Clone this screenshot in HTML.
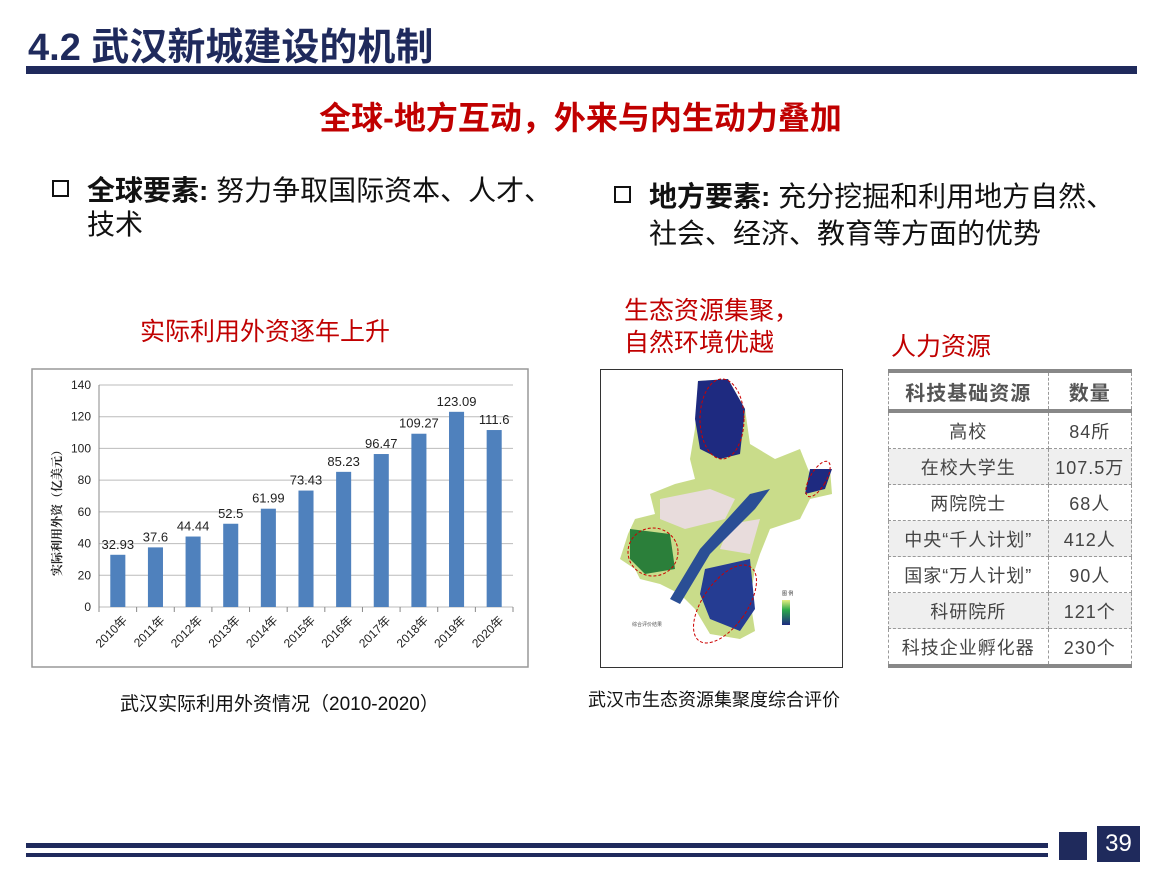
<!DOCTYPE html>
<html><head><meta charset="utf-8"><style>
body{margin:0;width:1161px;height:872px;background:#fff;position:relative;overflow:hidden;font-family:"Liberation Sans","Noto Sans CJK SC",sans-serif}
.a{position:absolute}
td{border:1px dashed #999;text-align:center;font-size:18px;color:#444;letter-spacing:1px;padding:0;height:35px}
</style></head><body>
<div class="a" style="left:28px;top:16px;font-size:38px;font-weight:bold;color:#1f2a5c">4.2 武汉新城建设的机制</div>
<div class="a" style="left:26px;top:66px;width:1111px;height:8px;background:#1f2a5c"></div>
<div class="a" style="left:0;width:1161px;text-align:center;top:93px;font-size:32px;font-weight:bold;color:#c00000">全球-地方互动，外来与内生动力叠加</div>
<div class="a" style="left:52px;top:174px;width:530px;font-size:28px;line-height:34px;color:#111"><span style="display:inline-block;width:13px;height:13px;border:2px solid #111;margin-right:18px;vertical-align:3px"></span><b>全球要素:</b> 努力争取国际资本、人才、<br><span style="padding-left:35px">技术</span></div>
<div class="a" style="left:614px;top:178px;width:547px;font-size:28px;line-height:37px;color:#111"><span style="display:inline-block;width:13px;height:13px;border:2px solid #111;margin-right:18px;vertical-align:3px"></span><b>地方要素:</b> 充分挖掘和利用地方自然、<br><span style="padding-left:35px">社会、经济、教育等方面的优势</span></div>
<div class="a" style="left:140px;top:312px;font-size:25px;color:#c00000">实际利用外资逐年上升</div>
<div class="a" style="left:624px;top:295px;font-size:25px;line-height:32px;color:#c00000">生态资源集聚，<br>自然环境优越</div>
<div class="a" style="left:891px;top:327px;font-size:25px;color:#c00000">人力资源</div>
<svg class="a" style="left:0;top:0" width="1161" height="872" id="chart">
<rect x="32" y="369" width="496" height="298" fill="#fff" stroke="#999" stroke-width="1.5"/>
<g id="g"></g>
<text transform="translate(61,510) rotate(-90)" text-anchor="middle" font-size="12" font-family="Liberation Serif,Noto Serif CJK SC,serif" font-weight="bold" fill="#222">实际利用外资（亿美元）</text>
</svg>
<div class="a" style="left:120px;top:689px;font-size:19px;color:#111">武汉实际利用外资情况（2010-2020）</div>
<svg class="a" style="left:600px;top:369px" width="243" height="300">
<rect x="0.5" y="0.5" width="242" height="298" fill="#fff" stroke="#333"/>
<path d="M98 12 L128 10 L145 40 L150 75 L175 90 L200 80 L210 105 L230 100 L232 125 L210 130 L200 150 L170 160 L160 185 L155 200 L150 230 L155 262 L140 270 L110 265 L95 240 L80 225 L60 215 L40 210 L35 200 L20 190 L28 165 L35 150 L55 145 L50 125 L75 115 L95 110 L90 90 L95 60 Z" fill="#c9dc8a"/>
<path d="M98 12 L128 10 L145 40 L140 85 L120 90 L100 80 L95 50 Z" fill="#1e2a80"/>
<path d="M210 100 L232 100 L225 120 L205 125Z" fill="#1e2a80"/>
<path d="M105 200 L150 190 L155 240 L140 262 L110 250 L100 225Z" fill="#253c92"/>
<path d="M30 160 L70 165 L75 200 L45 205 L30 190Z" fill="#2b7f3a"/>
<path d="M60 130 L110 120 L135 130 L125 150 L85 160 L60 150Z" fill="#e8dcdc"/>
<path d="M130 155 L160 150 L150 185 L120 180Z" fill="#e8dcdc"/>
<path d="M70 230 L100 180 L150 125 L170 120 L155 140 L110 185 L80 235Z" fill="#2a4e95"/>
<ellipse cx="122" cy="50" rx="22" ry="40" fill="none" stroke="#c00" stroke-dasharray="3,2"/>
<ellipse cx="218" cy="110" rx="8" ry="20" transform="rotate(30 218 110)" fill="none" stroke="#c00" stroke-dasharray="3,2"/>
<ellipse cx="53" cy="183" rx="25" ry="24" fill="none" stroke="#c00" stroke-dasharray="3,2"/>
<ellipse cx="125" cy="235" rx="22" ry="45" transform="rotate(35 125 235)" fill="none" stroke="#c00" stroke-dasharray="3,2"/>
<defs><linearGradient id="lg" x1="0" y1="0" x2="0" y2="1"><stop offset="0" stop-color="#e6ee80"/><stop offset=".4" stop-color="#2aa84a"/><stop offset="1" stop-color="#1e2a80"/></linearGradient></defs>
<rect x="182" y="231" width="8" height="25" fill="url(#lg)"/>
<text x="32" y="257" font-size="5" fill="#555">综合评价结果</text>
<text x="182" y="226" font-size="5" fill="#333">图 例</text>
</svg>
<div class="a" style="left:588px;top:686px;font-size:18px;color:#111">武汉市生态资源集聚度综合评价</div>
<table class="a" style="left:888px;top:369px;width:244px;border-collapse:collapse;border-top:4px solid #888;border-bottom:4px solid #888">
<tr style="border-bottom:4px solid #888"><td style="font-size:20px;font-weight:bold;height:36px;color:#555">科技基础资源</td><td style="font-size:20px;font-weight:bold;color:#555">数量</td></tr>
<tr><td>高校</td><td>84所</td></tr>
<tr style="background:#efefef"><td>在校大学生</td><td>107.5万</td></tr>
<tr><td>两院院士</td><td>68人</td></tr>
<tr style="background:#efefef"><td>中央“千人计划”</td><td>412人</td></tr>
<tr><td>国家“万人计划”</td><td>90人</td></tr>
<tr style="background:#efefef"><td>科研院所</td><td>121个</td></tr>
<tr><td>科技企业孵化器</td><td>230个</td></tr>
</table>
<div class="a" style="left:26px;top:843px;width:1022px;height:5px;background:#1f2a5c"></div>
<div class="a" style="left:26px;top:853px;width:1022px;height:4px;background:#1f2a5c"></div>
<div class="a" style="left:1059px;top:832px;width:28px;height:28px;background:#1f2a5c"></div>
<div class="a" style="left:1097px;top:826px;width:43px;height:36px;background:#1f2a5c;color:#fff;font-size:24px;text-align:center;line-height:36px">39</div>
<script>
const years=["2010年","2011年","2012年","2013年","2014年","2015年","2016年","2017年","2018年","2019年","2020年"];
const values=[32.93,37.6,44.44,52.5,61.99,73.43,85.23,96.47,109.27,123.09,111.6];
const labels=["32.93","37.6","44.44","52.5","61.99","73.43","85.23","96.47","109.27","123.09","111.6"];
const ticks=[0,20,40,60,80,100,120,140];
const NS="http://www.w3.org/2000/svg",g=document.getElementById('g');
const x0=99,x1=513,yB=607,yT=385,vmax=140;
const ys=v=>yB-(v/vmax)*(yB-yT);
const bw=(x1-x0)/years.length;
function mk(t,a,txt){const e=document.createElementNS(NS,t);for(const k in a)e.setAttribute(k,a[k]);if(txt!=null)e.textContent=txt;g.appendChild(e);return e;}
ticks.forEach(t=>{
const l=mk('line',{x1:x0,x2:x1,y1:ys(t),y2:ys(t),stroke:'#bbb'});


const tx=mk('text',{x:x0-8,y:ys(t)+4,'text-anchor':'end','font-size':12,fill:'#222'},t);


});
mk('line',{x1:x0,x2:x0,y1:yT,y2:yB,stroke:'#888'});
years.forEach((y,i)=>{
const cx=x0+bw*(i+.5),w=bw*0.4;
mk('line',{x1:x0+bw*i,x2:x0+bw*i,y1:yB,y2:yB+5,stroke:'#888'});
const r=mk('rect',{x:cx-w/2,y:ys(values[i]),width:w,height:yB-ys(values[i]),fill:'#4f81bd'});


const v=mk('text',{x:cx,y:ys(values[i])-6,'text-anchor':'middle','font-size':13,fill:'#222'},labels[i]);


const xl=mk('text',{transform:`translate(${cx+10},${yB+14}) rotate(-45)`,'text-anchor':'end','font-size':12,fill:'#222'},y);


});
mk('line',{x1:x1,x2:x1,y1:yB,y2:yB+5,stroke:'#888'});
</script>
</body></html>
